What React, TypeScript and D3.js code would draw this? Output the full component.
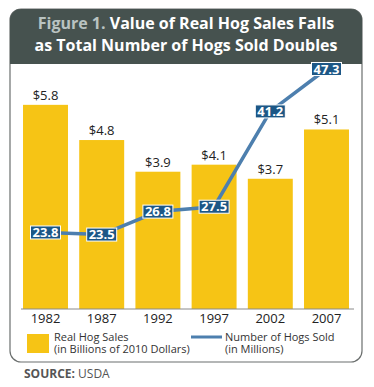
import React from 'react';
import * as d3 from 'd3';

// data
const years = ['1982', '1987', '1992', '1997', '2002', '2007'];
const salesValues = [5.8, 4.8, 3.9, 4.1, 3.7, 5.1];
const hogsSold = [23.8, 23.5, 26.8, 27.5, 41.2, 47.3];

const W = 374, H = 387;
const font = '"Open Sans", "Noto Sans", sans-serif';

export default function App() {
    // set the ranges
    const x = d3.scaleBand<string>()
        .domain(years)
        .range([17.4, 354.6])
        .paddingInner(0.2)
        .paddingOuter(0.1);

    const y = d3.scaleLinear().domain([0, 6]).range([309, 97.8]);
    const y2 = d3.scaleLinear().domain([20, 50]).range([258.9, 50.2]);

    const cx = (yr: string) => (x(yr) as number) + x.bandwidth() / 2;

    const valueline = d3.line<number>()
        .x((d, i) => cx(years[i]))
        .y(d => y2(d));

    return (
        <svg width={W} height={H} style={{ position: 'absolute', left: 0, top: 0, background: '#fff' }}
            fontFamily={font}>
            {/* frame + header */}
            <rect x={10} y={9} width={352} height={353} rx={11} fill="#fff" stroke="#6b6f6e" strokeWidth={1.2} />
            <path d="M10,64 V20 A11,11 0 0 1 21,9 H351 A11,11 0 0 1 362,20 V64 Z" fill="#46524f" />
            <text x={186} y={29} textAnchor="middle" fontSize={16} fontWeight={700} fill="#fff">
                <tspan fill="#b9c3c1">Figure 1. </tspan>Value of Real Hog Sales Falls
            </text>
            <text x={186} y={51} textAnchor="middle" fontSize={16} fontWeight={700} fill="#fff">
                as Total Number of Hogs Sold Doubles
            </text>

            {/* bars */}
            {salesValues.map((v, i) => (
                <g key={years[i]}>
                    <rect x={x(years[i])} y={y(v)} width={x.bandwidth()} height={y(0) - y(v)} fill="#f6c415" />
                    <text x={cx(years[i])} y={y(v) - 5} textAnchor="middle" fontSize={13} fill="#222">
                        {'$' + v.toFixed(1)}
                    </text>
                    <text x={cx(years[i])} y={323} textAnchor="middle" fontSize={13} fill="#222">{years[i]}</text>
                </g>
            ))}
            <line x1={21} x2={354} y1={y(0)} y2={y(0)} stroke="#8a8a8a" strokeWidth={1} />

            {/* line series */}
            <path d={valueline(hogsSold) || ''} fill="none" stroke="#4d7fae" strokeWidth={3.5} />
            {hogsSold.map((v, i) => (
                <g key={'h' + i}>
                    <rect x={cx(years[i]) - 15} y={y2(v) - 6.5} width={30} height={13} fill="#1c5786"
                        stroke="#fff" strokeWidth={1} />
                    <text x={cx(years[i])} y={y2(v) + 4.7} textAnchor="middle" fontSize={13} fontWeight={700}
                        fill="#fff">{v.toFixed(1)}</text>
                </g>
            ))}

            {/* legend */}
            <rect x={27} y={334} width={22} height={19} fill="#f6c415" />
            <text x={54} y={340.5} fontSize={11} fill="#333">Real Hog Sales</text>
            <text x={54} y={352.5} fontSize={11} fill="#333">(in Billions of 2010 Dollars)</text>
            <line x1={191} x2={222} y1={337} y2={337} stroke="#4d7fae" strokeWidth={3} />
            <text x={225} y={340.5} fontSize={11} fill="#333">Number of Hogs Sold</text>
            <text x={225} y={352.5} fontSize={11} fill="#333">(in Millions)</text>

            {/* source */}
            <text x={24} y={378} fontSize={12} fill="#555">
                <tspan fontWeight={700}>SOURCE:</tspan> USDA
            </text>
        </svg>
    );
}
